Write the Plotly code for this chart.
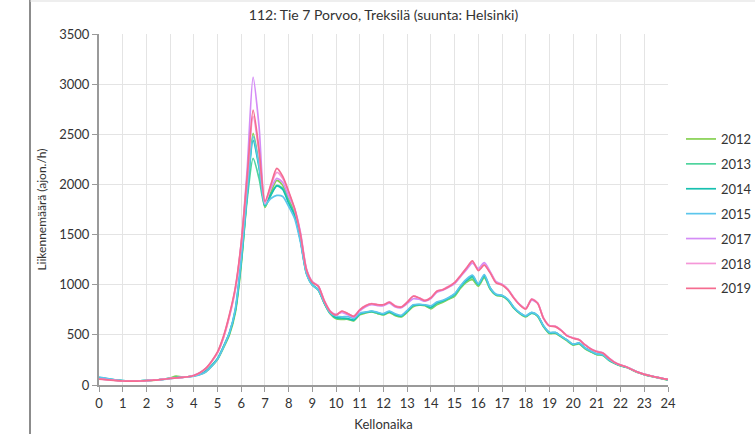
import numpy as np
import plotly.graph_objects as go

hours = [i * 0.25 for i in range(97)]

y2012 = [65, 58, 52, 46, 41, 39, 39, 41,
         44, 47, 51, 57, 70, 88, 80, 82,
         90, 105, 130, 185, 255, 370, 500, 720,
         1200, 1900, 2510, 2200, 1770, 1920, 2040, 1990,
         1850, 1720, 1450, 1110, 995, 945, 815, 710,
         660, 655, 655, 640, 700, 718, 728, 712,
         698, 722, 692, 680, 725, 780, 795, 790,
         760, 800, 825, 855, 885, 965, 1025, 1050,
         985, 1070, 955, 895, 885, 845, 765, 712,
         680, 720, 685, 580, 512, 515, 478, 438,
         398, 410, 362, 330, 302, 295, 247, 215,
         190, 175, 148, 122, 102, 88, 75, 62,
         48]
y2013 = [72, 64, 56, 48, 42, 40, 40, 42,
         45, 48, 52, 58, 68, 76, 78, 82,
         92, 110, 140, 195, 265, 385, 520, 740,
         1220, 1850, 2260, 2060, 1780, 1890, 1990, 1960,
         1830, 1700, 1440, 1120, 1000, 950, 820, 715,
         665, 662, 658, 645, 705, 722, 732, 716,
         702, 728, 698, 684, 732, 788, 800, 795,
         768, 810, 832, 862, 895, 975, 1035, 1070,
         995, 1080, 960, 898, 888, 848, 768, 715,
         683, 715, 690, 585, 518, 520, 483, 445,
         402, 415, 366, 334, 306, 300, 250, 218,
         193, 177, 150, 124, 104, 90, 77, 64,
         50]
y2014 = [75, 66, 57, 49, 43, 40, 40, 42,
         45, 48, 52, 58, 67, 75, 77, 82,
         92, 108, 138, 192, 262, 380, 515, 745,
         1240, 1900, 2440, 2170, 1790, 1900, 1985, 1950,
         1810, 1690, 1440, 1120, 1000, 950, 820, 718,
         672, 668, 662, 648, 708, 725, 735, 720,
         706, 732, 702, 688, 738, 795, 802, 798,
         775, 822, 838, 868, 905, 985, 1045, 1085,
         1005, 1092, 968, 902, 892, 852, 772, 718,
         688, 722, 692, 588, 522, 522, 485, 447,
         405, 418, 370, 337, 309, 302, 252, 219,
         194, 178, 151, 125, 105, 91, 78, 65,
         52]
y2015 = [80, 70, 60, 50, 44, 41, 40, 42,
         45, 48, 52, 57, 64, 72, 75, 80,
         88, 102, 130, 185, 258, 378, 520, 760,
         1260, 1920, 2480, 2190, 1800, 1860, 1890, 1880,
         1780, 1660, 1420, 1110, 995, 948, 822, 720,
         688, 680, 682, 665, 715, 728, 738, 725,
         712, 738, 710, 695, 745, 800, 805, 800,
         790, 828, 845, 872, 910, 990, 1055, 1095,
         1010, 1100, 970, 905, 895, 855, 775, 720,
         690, 725, 695, 590, 525, 525, 487, 448,
         408, 420, 372, 338, 310, 303, 253, 220,
         195, 179, 152, 126, 106, 92, 78, 66,
         54]
y2017 = [62, 56, 50, 45, 40, 38, 38, 40,
         44, 48, 52, 58, 66, 72, 76, 82,
         96, 122, 165, 235, 325, 475, 690, 960,
         1420, 2150, 3070, 2580, 1830, 1960, 2060, 2020,
         1880, 1760, 1520, 1160, 1030, 985, 840, 738,
         705, 725, 700, 678, 740, 780, 800, 792,
         790, 815, 778, 770, 812, 860, 855, 835,
         862, 925, 945, 975, 1012, 1080, 1150, 1215,
         1160, 1220, 1130, 1030, 1005, 955, 870, 802,
         762, 845, 815, 665, 590, 585, 545, 492,
         468, 452, 402, 360, 335, 320, 270, 226,
         198, 180, 152, 126, 106, 92, 78, 66,
         55]
y2018 = [60, 55, 50, 45, 40, 38, 38, 40,
         44, 48, 52, 58, 66, 72, 76, 82,
         95, 120, 160, 230, 320, 470, 680, 950,
         1400, 2050, 2680, 2320, 1810, 1990, 2120, 2060,
         1920, 1750, 1500, 1150, 1030, 990, 845, 738,
         700, 735, 712, 688, 752, 792, 812, 802,
         802, 828, 790, 780, 828, 885, 870, 845,
         872, 935, 952, 985, 1022, 1092, 1168, 1230,
         1150, 1200, 1122, 1022, 1002, 952, 870, 802,
         762, 860, 820, 668, 592, 585, 545, 492,
         470, 452, 402, 360, 335, 320, 270, 226,
         200, 181, 153, 127, 107, 93, 79, 67,
         56]
y2019 = [58, 54, 49, 44, 40, 38, 38, 40,
         43, 47, 51, 57, 65, 72, 76, 82,
         95, 122, 165, 238, 330, 485, 700, 970,
         1420, 2080, 2740, 2350, 1830, 2000, 2160, 2080,
         1930, 1760, 1500, 1150, 1025, 985, 840, 735,
         698, 738, 710, 685, 750, 790, 810, 800,
         800, 825, 785, 778, 825, 885, 868, 842,
         870, 935, 950, 980, 1020, 1090, 1165, 1238,
         1140, 1195, 1118, 1018, 998, 948, 865, 798,
         758, 855, 815, 665, 588, 582, 542, 490,
         466, 450, 400, 358, 332, 318, 268, 225,
         198, 180, 152, 126, 106, 92, 78, 66,
         55]

years = ["2012", "2013", "2014", "2015", "2017", "2018", "2019"]
series = [y2012, y2013, y2014, y2015, y2017, y2018, y2019]
colors = ["#86d152", "#4fd49e", "#17c0b0", "#5cc6ec", "#d48cf6", "#f597d8", "#f56c90"]

x_ticks = list(range(25))
y_ticks = [0, 500, 1000, 1500, 2000, 2500, 3000, 3500]

W, H = 755, 434
L, R, T, B = 99, 668, 34, 385

def px_x(p):
    return (p - L) / (R - L)

def px_y(p):
    return (B - p) / (B - T)

fig = go.Figure()
for yr, ys, c in zip(years, series, colors):
    fig.add_trace(go.Scatter(x=hours, y=ys, name=yr, mode="lines",
                             line=dict(color=c, width=1.7, shape="spline", smoothing=0.7),
                             legendgroup=yr))

FONT = "Lato"
fig.update_layout(
    width=W, height=H,
    margin=dict(l=L, r=W - R, t=T, b=H - B, pad=0, autoexpand=False),
    paper_bgcolor="white", plot_bgcolor="white",
    font=dict(family=FONT, size=12, color="#333333"),
    title=dict(text="112: Tie 7 Porvoo, Treksilä (suunta: Helsinki)",
               x=(L + R) / 2 / W, xanchor="center", y=1 - 15 / H, yanchor="middle",
               font=dict(family=FONT, size=14, color="#333333")),
    xaxis=dict(range=[0, 24], tickvals=x_ticks, ticktext=[str(v) for v in x_ticks],
               showgrid=True, gridcolor="#e4e4e4", gridwidth=1,
               showline=True, linecolor="#9a9a9a", linewidth=2,
               ticks="outside", ticklen=5, tickcolor="#9a9a9a", tickwidth=1,
               zeroline=False, tickfont=dict(size=13, color="#333333"),
               title=dict(text="Kellonaika", font=dict(size=13, color="#333333"), standoff=10)),
    yaxis=dict(range=[0, 3500], tickvals=y_ticks, ticktext=[str(v) for v in y_ticks],
               showgrid=True, gridcolor="#e4e4e4", gridwidth=1,
               showline=True, linecolor="#9a9a9a", linewidth=2,
               ticks="outside", ticklen=5, tickcolor="#9a9a9a", tickwidth=1,
               zeroline=False, tickfont=dict(size=13, color="#333333"),
               title=dict(text="Liikennemäärä (ajon./h)", font=dict(size=12, color="#333333"), standoff=10)),
    legend=dict(x=px_x(681), xanchor="left", y=px_y(124), yanchor="top",
                font=dict(size=13, color="#333333"), tracegroupgap=5,
                bgcolor="rgba(0,0,0,0)"),
    showlegend=True,
)

fig.add_shape(type="line", xref="paper", yref="paper",
              x0=px_x(30), x1=px_x(30), y0=px_y(H), y1=px_y(0),
              line=dict(color="#8c8c8c", width=2))
fig.add_shape(type="line", xref="paper", yref="paper",
              x0=px_x(30), x1=px_x(W), y0=px_y(1), y1=px_y(1),
              line=dict(color="#dddddd", width=1))

fig.write_html("out.html", config={"displayModeBar": False},
               post_script="document.body.style.margin='0px';document.body.style.overflow='hidden';")
